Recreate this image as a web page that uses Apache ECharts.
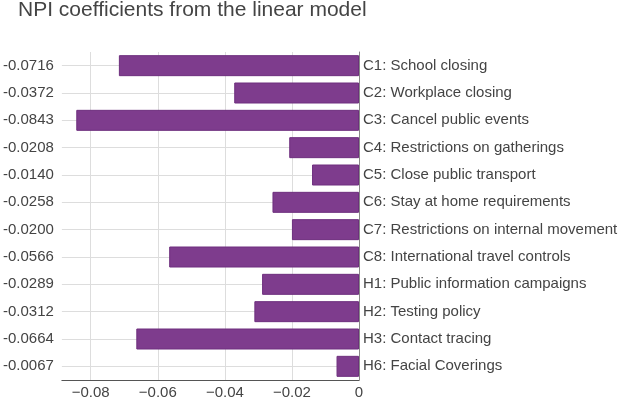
<!DOCTYPE html>
<html>
<head>
<meta charset="utf-8">
<script src="https://cdn.jsdelivr.net/npm/echarts@6/dist/echarts.min.js"></script>
<style>
  html, body { margin: 0; padding: 0; background: #fff; }
  #chart { width: 624px; height: 403px; }
</style>
</head>
<body>
<div id="chart"></div>
<script>
const categories = [
  "C1: School closing",
  "C2: Workplace closing",
  "C3: Cancel public events",
  "C4: Restrictions on gatherings",
  "C5: Close public transport",
  "C6: Stay at home requirements",
  "C7: Restrictions on internal movement",
  "C8: International travel controls",
  "H1: Public information campaigns",
  "H2: Testing policy",
  "H3: Contact tracing",
  "H6: Facial Coverings"
];
const coefficients = [-0.0716, -0.0372, -0.0843, -0.0208, -0.0140, -0.0258, -0.0200, -0.0566, -0.0289, -0.0312, -0.0664, -0.0067];
const valueLabels = coefficients.map((v) => v.toFixed(4));

const chart = echarts.init(document.getElementById("chart"));

chart.setOption({
  animation: false,
  textStyle: { fontFamily: "Liberation Sans, Arial, sans-serif" },
  title: {
    text: "NPI coefficients from the linear model",
    left: 18,
    top: 0,
    padding: [0, 0],
    textStyle: { fontSize: 21, fontWeight: "normal", color: "#444" }
  },
  grid: { left: 61, right: 265, top: 52, bottom: 23 },
  xAxis: {
    type: "value",
    min: -0.0886,
    max: 0,
    axisLine: { show: true, lineStyle: { color: "#555" } },
    axisTick: { show: false },
    axisLabel: {
      fontSize: 15,
      color: "#444",
      margin: 5,
      showMinLabel: false,
      formatter: (v) => (v === 0 ? "0" : String(v).replace("-", "\u2212"))
    },
    splitLine: { show: true, showMinLine: false, lineStyle: { color: "#ddd" } }
  },
  yAxis: [
    {
      type: "category",
      data: valueLabels,
      inverse: true,
      position: "left",
      axisLine: { show: false },
      axisTick: { show: false, alignWithLabel: true },
      axisLabel: { fontSize: 15, color: "#444", margin: 8 },
      splitLine: { show: true, alignWithLabel: true, lineStyle: { color: "#ddd" } }
    },
    {
      type: "category",
      data: categories,
      inverse: true,
      position: "right",
      axisLine: { show: true, lineStyle: { color: "#888" } },
      axisTick: { show: false },
      axisLabel: { fontSize: 15, color: "#444", margin: 4 },
      splitLine: { show: false }
    }
  ],
  series: [
    {
      type: "bar",
      data: coefficients,
      yAxisIndex: 0,
      barWidth: 21,
      itemStyle: { color: "#7e3c8d", borderColor: "#6e2f7e", borderWidth: 1 }
    }
  ]
});
</script>
</body>
</html>
